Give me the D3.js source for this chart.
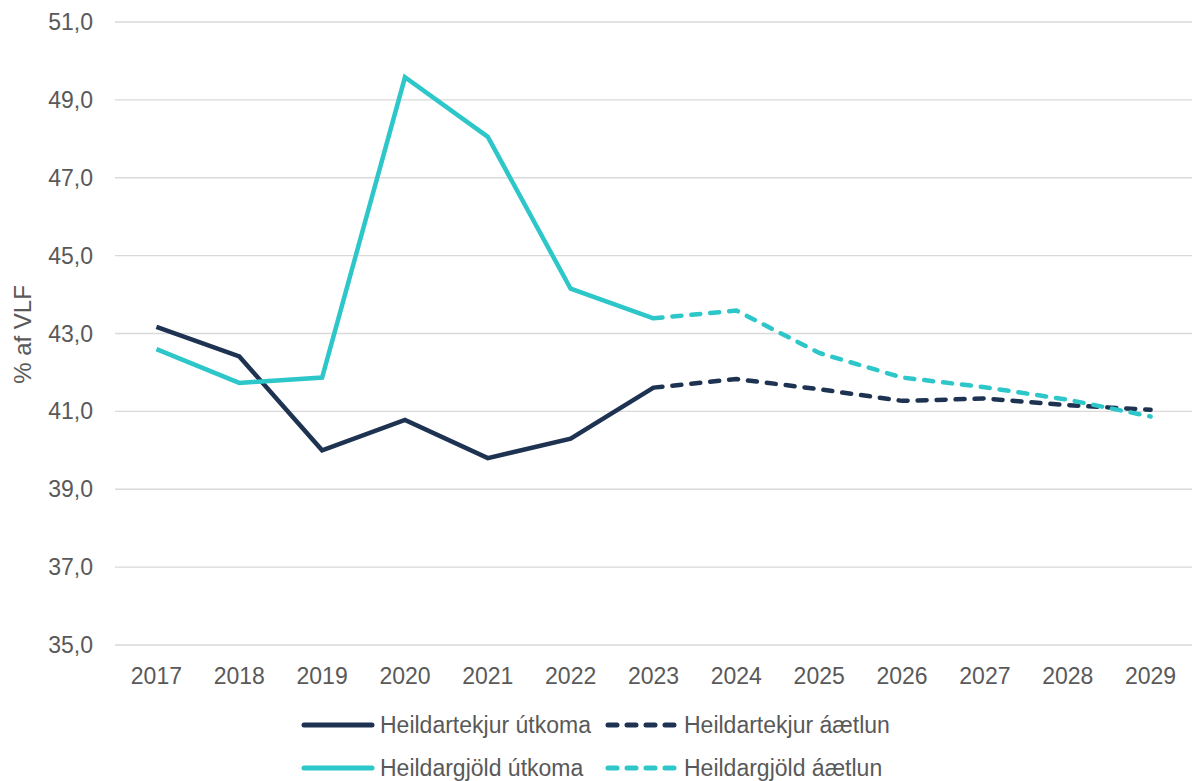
<!DOCTYPE html>
<html>
<head>
<meta charset="utf-8">
<script src="https://cdn.jsdelivr.net/npm/d3@7"></script>
<style>
  body { margin: 0; background: #fff; }
  text { font-family: "Liberation Sans", Arial, sans-serif; }
</style>
</head>
<body>
<div id="chart"></div>
<script>
const years = ["2017","2018","2019","2020","2021","2022","2023","2024","2025","2026","2027","2028","2029"];
const tekjur = [43.17, 42.41, 40.0, 40.78, 39.8, 40.3, 41.61, 41.83, 41.57, 41.27, 41.33, 41.16, 41.04];
const gjold = [42.6, 41.73, 41.87, 49.58, 48.05, 44.15, 43.39, 43.59, 42.5, 41.87, 41.62, 41.3, 40.87];
const lastActual = "2023";
const yTicks = [35, 37, 39, 41, 43, 45, 47, 49, 51];

const width = 1201, height = 781;
const navy = "#1e3352", teal = "#2dc6c9";

const svg = d3.select("#chart").append("svg")
    .attr("width", width)
    .attr("height", height);

const x = d3.scaleBand().domain(years).range([115, 1192]);
const y = d3.scaleLinear().domain([35, 51]).range([645, 22]);
const cx = d => x(d) + x.bandwidth() / 2;

// gridlines
svg.append("g")
    .selectAll("line")
    .data(yTicks)
    .join("line")
    .attr("x1", 115).attr("x2", 1192)
    .attr("y1", d => y(d)).attr("y2", d => y(d))
    .attr("stroke", "#d9d9d9")
    .attr("stroke-width", 1.3);

// y axis labels
const fmt = d => d3.format(".1f")(d).replace(".", ",");
svg.append("g")
    .selectAll("text")
    .data(yTicks)
    .join("text")
    .attr("x", 93)
    .attr("y", d => y(d))
    .attr("dy", "0.35em")
    .attr("text-anchor", "end")
    .attr("font-size", 23)
    .attr("fill", "#595959")
    .text(fmt);

// x axis labels
svg.append("g")
    .selectAll("text")
    .data(years)
    .join("text")
    .attr("x", d => cx(d))
    .attr("y", 684)
    .attr("text-anchor", "middle")
    .attr("font-size", 23)
    .attr("fill", "#595959")
    .text(d => d);

svg.append("text")
    .attr("transform", `translate(31,${y(43) + 1}) rotate(-90)`)
    .attr("text-anchor", "middle")
    .attr("font-size", 24)
    .attr("fill", "#595959")
    .text("% af VLF");

const line = d3.line().x(d => cx(d.year)).y(d => y(d.value));
const idx = years.indexOf(lastActual);

const series = [
    { vals: tekjur, color: navy },
    { vals: gjold, color: teal }
];

// dashed forecasts first, then actual lines on top
series.forEach(s => {
    const pts = years.map((yr, i) => ({ year: yr, value: s.vals[i] }));
    svg.append("path")
        .datum(pts.slice(idx))
        .attr("d", line)
        .attr("fill", "none")
        .attr("stroke", s.color)
        .attr("stroke-width", 4.5)
        .attr("stroke-dasharray", "9,10")
        .attr("stroke-linecap", "round");
});
series.forEach(s => {
    const pts = years.map((yr, i) => ({ year: yr, value: s.vals[i] }));
    svg.append("path")
        .datum(pts.slice(0, idx + 1))
        .attr("d", line)
        .attr("fill", "none")
        .attr("stroke", s.color)
        .attr("stroke-width", 4.5);
});

// legend
const legend = [
    { label: "Heildartekjur útkoma", color: navy, dash: null, x: 302, y: 725 },
    { label: "Heildartekjur áætlun", color: navy, dash: "9,10", x: 606, y: 725 },
    { label: "Heildargjöld útkoma", color: teal, dash: null, x: 302, y: 768 },
    { label: "Heildargjöld áætlun", color: teal, dash: "9,10", x: 606, y: 768 }
];
const lg = svg.append("g").selectAll("g").data(legend).join("g");
lg.append("line")
    .attr("x1", d => d.x + 2).attr("x2", d => d.x + 70)
    .attr("y1", d => d.y).attr("y2", d => d.y)
    .attr("stroke", d => d.color)
    .attr("stroke-width", 5)
    .attr("stroke-linecap", "round")
    .attr("stroke-dasharray", d => d.dash);
lg.append("text")
    .attr("x", d => d.x + 78)
    .attr("y", d => d.y)
    .attr("dy", "0.35em")
    .attr("font-size", 23)
    .attr("fill", "#595959")
    .text(d => d.label);
</script>
</body>
</html>
